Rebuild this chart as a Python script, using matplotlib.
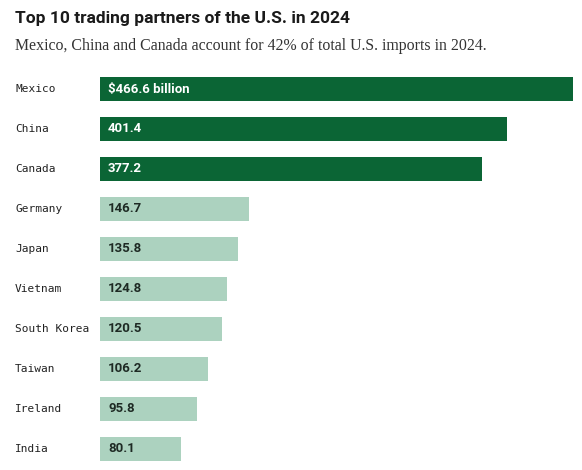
import matplotlib.pyplot as plt

countries = ['Mexico', 'China', 'Canada', 'Germany', 'Japan', 'Vietnam',
             'South Korea', 'Taiwan', 'Ireland', 'India']
imports = [466.6, 401.4, 377.2, 146.7, 135.8, 124.8, 120.5, 106.2, 95.8, 80.1]
labels = ['$466.6 billion', '401.4', '377.2', '146.7', '135.8', '124.8',
          '120.5', '106.2', '95.8', '80.1']
n_top = 3

dark = '#0b6535'
light = '#acd2bf'

fig = plt.figure(figsize=(5.82, 4.70), dpi=100)
W, H = 582, 470

ax = fig.add_axes([100 / W, 1 / H, 473 / W, 400 / H])
ys = list(range(len(countries)))
colors = [dark if i < n_top else light for i in ys]
ax.barh(ys, imports, height=0.6, color=colors)
ax.set_ylim(len(countries) - 0.5, -0.5)
ax.set_xlim(0, max(imports))
ax.axis('off')

for i, (v, lab) in enumerate(zip(imports, labels)):
    ax.text(8, i, lab, va='center', ha='left', fontsize=9.5, fontweight='bold',
            color='white' if i < n_top else '#1e2a24', family='Roboto')
    fig.text(15 / W, 1 - (89 + 40 * i) / H, countries[i], va='center', ha='left',
             fontsize=8, family='DejaVu Sans Mono', color='#222222')

fig.text(15 / W, 1 - 19 / H, 'Top 10 trading partners of the U.S. in 2024',
         fontsize=12.5, fontweight='bold', va='center', ha='left',
         family='Roboto', color='#1a1a1a')
fig.text(15 / W, 1 - 46 / H,
         'Mexico, China and Canada account for 42% of total U.S. imports in 2024.',
         fontsize=11.4, va='center', ha='left', family='Liberation Serif', color='#333333')

fig.savefig('out.png', dpi=100)
